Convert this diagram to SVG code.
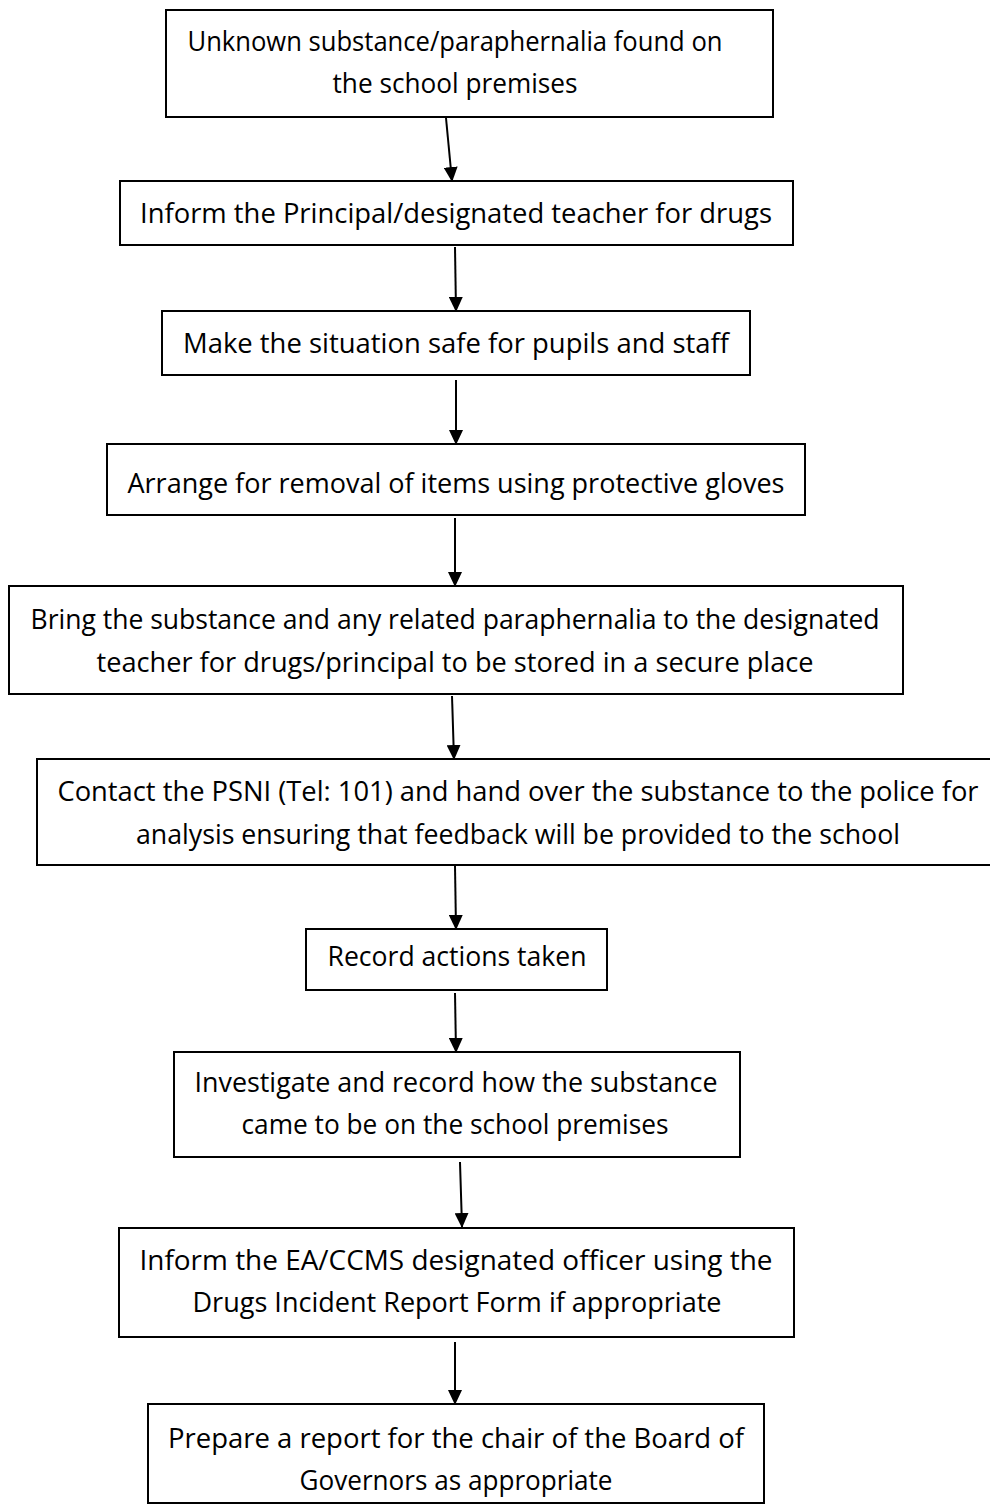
<svg xmlns="http://www.w3.org/2000/svg" width="990" height="1506" viewBox="0 0 990 1506">
<style>
.box{fill:#fff;stroke:#000;stroke-width:2}
.t{font-family:"Comic Sans MS","Open Sans","DejaVu Sans",sans-serif;font-size:28px;fill:#000;text-anchor:middle}
.c{stroke:#000;stroke-width:2;fill:none;marker-end:url(#ah)}
</style>
<defs>
<marker id="ah" viewBox="0 0 15 14" refX="14" refY="7" markerWidth="15" markerHeight="14" markerUnits="userSpaceOnUse" orient="auto">
<path d="M0,0 L15,7 L0,14 Z" fill="#000"/>
</marker>
</defs>
<rect width="990" height="1506" fill="#fff"/>
<g id="connectors">
<line class="c" x1="446" y1="118" x2="452" y2="181"/>
<line class="c" x1="455" y1="247" x2="456" y2="311"/>
<line class="c" x1="456" y1="380" x2="456" y2="444"/>
<line class="c" x1="455" y1="518" x2="455" y2="586"/>
<line class="c" x1="452" y1="696" x2="454" y2="759"/>
<line class="c" x1="455" y1="866" x2="456" y2="929"/>
<line class="c" x1="455" y1="993" x2="456" y2="1052"/>
<line class="c" x1="460" y1="1162" x2="462" y2="1227"/>
<line class="c" x1="455" y1="1342" x2="455" y2="1404"/>
</g>
<g id="n1"><rect class="box" x="166" y="10" width="607" height="107"/>
<text class="t" x="455" y="51" textLength="535" lengthAdjust="spacingAndGlyphs">Unknown substance/paraphernalia found on</text>
<text class="t" x="455" y="93" textLength="245" lengthAdjust="spacingAndGlyphs">the school premises</text></g>
<g id="n2"><rect class="box" x="120" y="181" width="673" height="64"/>
<text class="t" x="456" y="223" textLength="632" lengthAdjust="spacingAndGlyphs">Inform the Principal/designated teacher for drugs</text></g>
<g id="n3"><rect class="box" x="162" y="311" width="588" height="64"/>
<text class="t" x="456" y="353" textLength="546" lengthAdjust="spacingAndGlyphs">Make the situation safe for pupils and staff</text></g>
<g id="n4"><rect class="box" x="107" y="444" width="698" height="71"/>
<text class="t" x="456" y="493" textLength="657" lengthAdjust="spacingAndGlyphs">Arrange for removal of items using protective gloves</text></g>
<g id="n5"><rect class="box" x="9" y="586" width="894" height="108"/>
<text class="t" x="455" y="629" textLength="849" lengthAdjust="spacingAndGlyphs">Bring the substance and any related paraphernalia to the designated</text>
<text class="t" x="455" y="672" textLength="717" lengthAdjust="spacingAndGlyphs">teacher for drugs/principal to be stored in a secure place</text></g>
<g id="n6"><rect class="box" x="37" y="759" width="962" height="106"/>
<text class="t" x="518" y="801" textLength="921" lengthAdjust="spacingAndGlyphs">Contact the PSNI (Tel: 101) and hand over the substance to the police for</text>
<text class="t" x="518" y="844" textLength="764" lengthAdjust="spacingAndGlyphs">analysis ensuring that feedback will be provided to the school</text></g>
<g id="n7"><rect class="box" x="306" y="929" width="301" height="61"/>
<text class="t" x="457" y="966" textLength="259" lengthAdjust="spacingAndGlyphs">Record actions taken</text></g>
<g id="n8"><rect class="box" x="174" y="1052" width="566" height="105"/>
<text class="t" x="456" y="1092" textLength="523" lengthAdjust="spacingAndGlyphs">Investigate and record how the substance</text>
<text class="t" x="455" y="1134" textLength="427" lengthAdjust="spacingAndGlyphs">came to be on the school premises</text></g>
<g id="n9"><rect class="box" x="119" y="1228" width="675" height="109"/>
<text class="t" x="456" y="1270" textLength="633" lengthAdjust="spacingAndGlyphs">Inform the EA/CCMS designated officer using the</text>
<text class="t" x="457" y="1312" textLength="529" lengthAdjust="spacingAndGlyphs">Drugs Incident Report Form if appropriate</text></g>
<g id="n10"><rect class="box" x="148" y="1404" width="616" height="99"/>
<text class="t" x="456" y="1448" textLength="576" lengthAdjust="spacingAndGlyphs">Prepare a report for the chair of the Board of</text>
<text class="t" x="456" y="1490" textLength="313" lengthAdjust="spacingAndGlyphs">Governors as appropriate</text></g>
</svg>
